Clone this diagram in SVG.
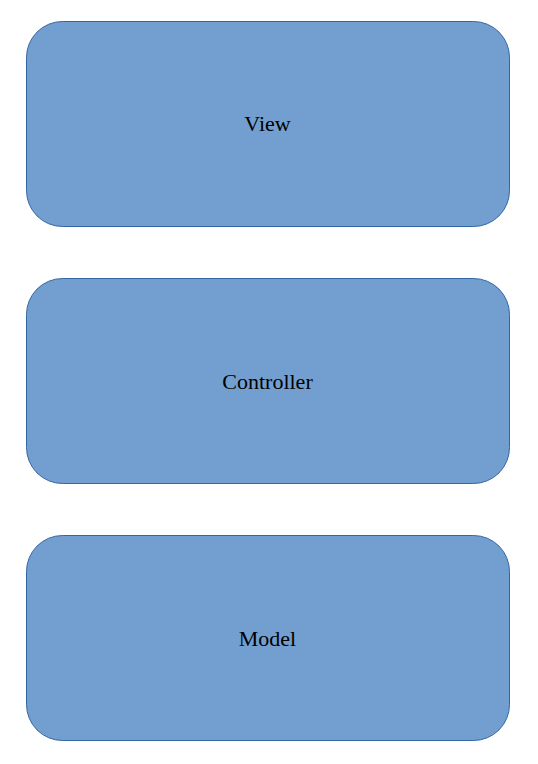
<svg xmlns="http://www.w3.org/2000/svg" width="538" height="764" viewBox="0 0 538 764">
<style>
.box{fill:#729fcf;stroke:#3465a4;stroke-width:1}
.lbl{font-family:"Liberation Serif",serif;font-size:22px;fill:#000;text-anchor:middle}
</style>
<rect width="538" height="764" fill="#fff"/>
<g id="view"><rect class="box" x="26.5" y="21.5" width="483" height="205" rx="36" ry="36"/><text class="lbl" x="267.5" y="131">View</text></g>
<g id="controller"><rect class="box" x="26.5" y="278.5" width="483" height="205" rx="36" ry="36"/><text class="lbl" x="267.5" y="389">Controller</text></g>
<g id="model"><rect class="box" x="26.5" y="535.5" width="483" height="205" rx="36" ry="36"/><text class="lbl" x="267.5" y="646">Model</text></g>
<g id="connectors"></g>
</svg>
